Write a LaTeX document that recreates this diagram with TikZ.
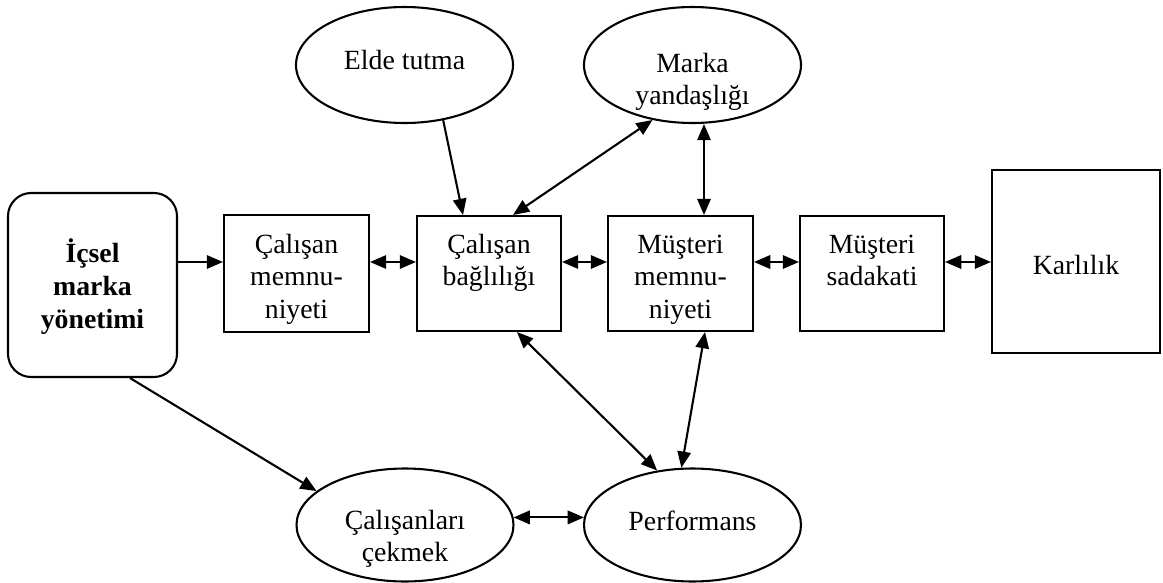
\documentclass[tikz,border=0pt]{standalone}
\usepackage{fontspec}
\setmainfont{Liberation Serif}
\usetikzlibrary{arrows.meta,shapes.geometric}
\def\px{0.432pt}
\begin{document}
\begin{tikzpicture}[x=0.432pt,y=-0.432pt,
  box/.style={draw,line width=0.9pt,rectangle,inner sep=0pt},
  oval/.style={draw,line width=0.9pt,ellipse,inner sep=0pt,
    minimum width=217*\px,minimum height=116*\px},
  lbl/.style={anchor=north,inner sep=0pt,align=center,
    font=\fontsize{12pt}{14.2pt}\selectfont},
  lblbold/.style={lbl,font=\fontsize{12pt}{14.2pt}\selectfont\bfseries},
  oneway/.style={line width=0.9pt,-{Triangle[length=7pt,width=5.8pt]}},
  twoway/.style={line width=0.9pt,
    {Triangle[length=7pt,width=5.8pt]}-{Triangle[length=7pt,width=5.8pt]}}
]
\useasboundingbox (0,0) rectangle (1163,583);

% shapes
\node[box,rounded corners=10pt,minimum width=169*\px,minimum height=184*\px] (ibm) at (92.5,285) {};
\node[box,minimum width=145*\px,minimum height=117*\px] (cm) at (296.5,273.5) {};
\node[box,minimum width=144*\px,minimum height=115*\px] (cb) at (489,273.5) {};
\node[box,minimum width=145*\px,minimum height=115*\px] (mm) at (680.5,273.5) {};
\node[box,minimum width=144*\px,minimum height=115*\px] (ms) at (872,273.5) {};
\node[box,minimum width=168*\px,minimum height=183*\px] (kr) at (1076,261.5) {};
\node[oval] (et) at (404.5,65) {};
\node[oval] (my) at (692.5,65) {};
\node[oval,minimum height=113*\px] (cc) at (405,525) {};
\node[oval,minimum height=113*\px] (pf) at (692.5,525) {};

% texts
\node[lblbold] (ibmt) at (92.5,238.6) {\strut İçsel\\marka\\yönetimi};
\node[lbl] (cmt) at (296.5,229.6) {\strut Çalışan\\memnu-\\niyeti};
\node[lbl] (cbt) at (489,229.6) {\strut Çalışan\\bağlılığı};
\node[lbl] (mmt) at (680.5,229.6) {\strut Müşteri\\memnu-\\niyeti};
\node[lbl] (mst) at (872,229.6) {\strut Müşteri\\sadakati};
\node[lbl] (krt) at (1076,250.6) {\strut Karlılık};
\node[lbl] (ett) at (404.5,45.6) {\strut Elde tutma};
\node[lbl] (myt) at (692.5,48.6) {\strut Marka\\yandaşlığı};
\node[lbl] (cct) at (405,505.6) {\strut Çalışanları\\çekmek};
\node[lbl] (pft) at (692.5,506.6) {\strut Performans};

% helper coordinates
\coordinate (row) at (0,262);
\coordinate (c463) at (463,0);
\coordinate (c513) at (513,0);
\coordinate (c704) at (704,0);
\coordinate (c130) at (130,0);
\coordinate (c517) at (517,0);
\coordinate (c705) at (705,0);

% connectors
\draw[oneway] (ibm.east |- row) -- (cm.west |- row);
\draw[twoway] (cm.east |- row) -- (cb.west |- row);
\draw[twoway] (cb.east |- row) -- (mm.west |- row);
\draw[twoway] (mm.east |- row) -- (ms.west |- row);
\draw[twoway] (ms.east |- row) -- (kr.west |- row);
\draw[oneway] (et.-55) -- (c463 |- cb.north);
\draw[twoway] (my.234) -- (c513 |- cb.north);
\draw[twoway] (c704 |- my.south) -- (c704 |- mm.north);
\draw[oneway] (c130 |- ibm.south) -- (cc.159);
\draw[twoway] (c517 |- cb.south) -- (pf.123);
\draw[twoway] (c705 |- mm.south) -- (pf.101);
\draw[twoway] (cc.4) -- (pf.176);
\end{tikzpicture}
\end{document}
